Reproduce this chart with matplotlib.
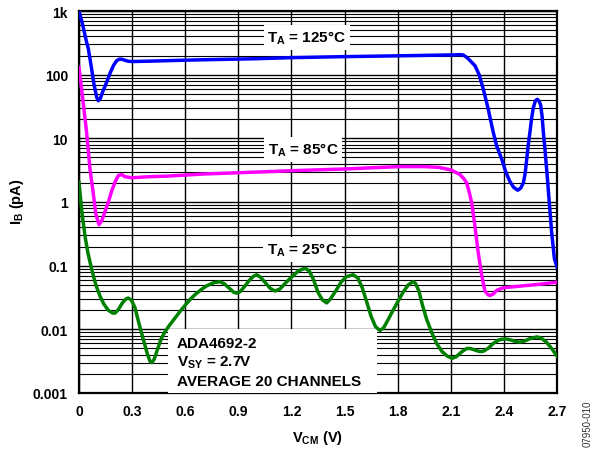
import matplotlib
matplotlib.use("Agg")
import matplotlib.pyplot as plt
from matplotlib.ticker import LogLocator, NullFormatter, FixedLocator, FixedFormatter
from matplotlib.patches import Rectangle

plt.rcParams['font.family'] = ['Liberation Sans', 'DejaVu Sans']
plt.rcParams['font.weight'] = 'bold'
plt.rcParams['mathtext.fontset'] = 'custom'
plt.rcParams['mathtext.rm'] = 'Liberation Sans:bold'
plt.rcParams['mathtext.it'] = 'Liberation Sans:bold'
plt.rcParams['mathtext.bf'] = 'Liberation Sans:bold'

# ---- data ----
x_125 = [0.000, 0.020, 0.040, 0.053, 0.070, 0.085, 0.100, 0.109, 0.120, 0.135, 0.156, 0.175,
         0.195, 0.213, 0.228, 0.241, 0.260, 0.280, 0.305, 0.400, 0.500, 0.683, 1.000, 1.200,
         1.500, 1.813, 2.096, 2.150, 2.170, 2.190, 2.210, 2.237, 2.260, 2.284, 2.310, 2.340,
         2.360, 2.388, 2.410, 2.434, 2.455, 2.478, 2.495, 2.510, 2.520, 2.529, 2.538, 2.547,
         2.556, 2.566, 2.578, 2.589, 2.600, 2.608, 2.616, 2.623, 2.632, 2.645, 2.655, 2.670,
         2.685, 2.700]
ib_125 = [1000, 620, 350, 252, 130, 70, 44, 39, 42, 55, 76, 105,
          140, 166, 175, 175, 168, 162, 161, 163, 166, 171, 178, 185,
          192, 198, 204, 206, 204, 187, 165, 138, 100, 59, 30, 12.4,
          7.5, 4.7, 3.0, 2.1, 1.7, 1.53, 1.65, 2.0, 2.8, 4.7, 8.0, 12.4,
          20, 30, 39, 41, 38, 33, 22, 12.4, 6.7, 2.5, 1.1, 0.33,
          0.13, 0.095]

x_85 = [0.000, 0.020, 0.043, 0.062, 0.080, 0.095, 0.113, 0.130, 0.150, 0.166, 0.185, 0.205,
        0.222, 0.240, 0.260, 0.298, 0.400, 0.500, 0.700, 1.000, 1.200, 1.500, 1.813, 1.950,
        2.030, 2.100, 2.152, 2.175, 2.190, 2.205, 2.218, 2.235, 2.255, 2.275, 2.293, 2.310,
        2.322, 2.340, 2.360, 2.397, 2.500, 2.600, 2.700]
ib_85 = [130, 45, 12.3, 3.3, 1.4, 0.65, 0.44, 0.52, 0.75, 1.0, 1.5, 2.1,
         2.6, 2.7, 2.5, 2.4, 2.5, 2.55, 2.75, 2.95, 3.1, 3.3, 3.6, 3.6,
         3.5, 3.2, 2.7, 2.3, 2.0, 1.4, 0.98, 0.45, 0.16, 0.07, 0.04, 0.035,
         0.034, 0.036, 0.041, 0.045, 0.048, 0.051, 0.055]

x_25 = [0.000, 0.015, 0.034, 0.050, 0.072, 0.095, 0.119, 0.140, 0.165, 0.190, 0.203, 0.220,
        0.245, 0.265, 0.278, 0.295, 0.316, 0.340, 0.360, 0.385, 0.400, 0.411, 0.425, 0.445,
        0.465, 0.486, 0.510, 0.542, 0.570, 0.600, 0.630, 0.655, 0.690, 0.720, 0.760, 0.796,
        0.820, 0.850, 0.875, 0.891, 0.910, 0.935, 0.960, 0.985, 1.004, 1.025, 1.050, 1.080,
        1.107, 1.135, 1.165, 1.200, 1.240, 1.277, 1.300, 1.325, 1.350, 1.375, 1.399, 1.420,
        1.450, 1.480, 1.510, 1.549, 1.575, 1.600, 1.625, 1.650, 1.675, 1.700, 1.720, 1.745,
        1.770, 1.800, 1.830, 1.860, 1.887, 1.900, 1.920, 1.940, 1.965, 1.994, 2.020, 2.050,
        2.080, 2.107, 2.130, 2.160, 2.190, 2.210, 2.240, 2.260, 2.282, 2.310, 2.340, 2.370,
        2.406, 2.440, 2.470, 2.491, 2.520, 2.550, 2.587, 2.610, 2.640, 2.670, 2.700]
ib_25 = [2.04, 0.75, 0.29, 0.16, 0.087, 0.05, 0.033, 0.025, 0.020, 0.018, 0.018, 0.020,
         0.026, 0.030, 0.031, 0.029, 0.022, 0.012, 0.0075, 0.0042, 0.0032, 0.0030, 0.0034, 0.0050,
         0.0072, 0.0092, 0.0115, 0.015, 0.019, 0.024, 0.030, 0.035, 0.042, 0.048, 0.054, 0.056,
         0.052, 0.044, 0.038, 0.037, 0.039, 0.047, 0.058, 0.068, 0.072, 0.066, 0.055, 0.044,
         0.040, 0.043, 0.053, 0.066, 0.083, 0.091, 0.083, 0.060, 0.038, 0.029, 0.026, 0.030,
         0.040, 0.055, 0.067, 0.072, 0.064, 0.045, 0.027, 0.016, 0.011, 0.0096, 0.0105, 0.014,
         0.019, 0.027, 0.038, 0.050, 0.056, 0.053, 0.040, 0.024, 0.014, 0.0087, 0.0060, 0.0045,
         0.0038, 0.0035, 0.0037, 0.0044, 0.0050, 0.0050, 0.0047, 0.0045, 0.0045, 0.0050, 0.0060, 0.0068,
         0.0071, 0.0068, 0.0064, 0.0063, 0.0066, 0.0072, 0.0076, 0.0073, 0.0063, 0.0050, 0.0038]

x_ticks = [0, 0.3, 0.6, 0.9, 1.2, 1.5, 1.8, 2.1, 2.4, 2.7]
x_tick_labels = ["0", "0.3", "0.6", "0.9", "1.2", "1.5", "1.8", "2.1", "2.4", "2.7"]
y_ticks = [0.001, 0.01, 0.1, 1, 10, 100, 1000]
y_tick_labels = ["0.001", "0.01", "0.1", "1", "10", "100", "1k"]

fig = plt.figure(figsize=(5.95, 4.52), dpi=100)
ax = fig.add_axes([79/595, 58/452, 478/595, 382/452])

ax.set_yscale('log')
ax.set_xlim(0, 2.7)
ax.set_ylim(0.001, 1000)

ax.xaxis.set_major_locator(FixedLocator(x_ticks))
ax.xaxis.set_major_formatter(FixedFormatter(x_tick_labels))
ax.yaxis.set_major_locator(FixedLocator(y_ticks))
ax.yaxis.set_major_formatter(FixedFormatter(y_tick_labels))
ax.yaxis.set_minor_locator(LogLocator(base=10, subs=range(2, 10), numticks=20))
ax.yaxis.set_minor_formatter(NullFormatter())

ax.tick_params(which='both', length=0)
ax.tick_params(axis='x', pad=8, labelsize=10)
ax.tick_params(axis='y', pad=8, labelsize=10)
for lab in ax.get_xticklabels() + ax.get_yticklabels():
    lab.set_fontweight('bold')

ax.grid(True, which='major', axis='both', color='black', lw=1.0)
ax.grid(True, which='minor', axis='y', color='black', lw=0.8)
ax.set_axisbelow(True)
for s in ax.spines.values():
    s.set_linewidth(1.6)
    s.set_color('black')

ax.plot(x_125, ib_125, color='#0000FF', lw=2.5, zorder=5, solid_joinstyle='round')
ax.plot(x_85, ib_85, color='#FF00FF', lw=2.5, zorder=5, solid_joinstyle='round')
ax.plot(x_25, ib_25, color='#008000', lw=2.5, zorder=5, solid_joinstyle='round')

bb = dict(boxstyle='square,pad=0.25', fc='white', ec='none')
ax.text(1.288, 390, r'$\mathrm{T_A}$ = 125°C', ha='center', va='center', fontsize=11,
        fontweight='bold', bbox=bb, zorder=4)
ax.text(1.265, 6.7, r'$\mathrm{T_A}$ = 85°C', ha='center', va='center', fontsize=11,
        fontweight='bold', bbox=bb, zorder=4)
ax.text(1.262, 0.18, r'$\mathrm{T_A}$ = 25°C', ha='center', va='center', fontsize=11,
        fontweight='bold', bbox=bb, zorder=4)

ax.add_patch(Rectangle((89/478, 0), 209/478, 64/382, transform=ax.transAxes,
                       fc='white', ec='none', zorder=3))
ax.text(0.205, 0.131, 'ADA4692-2', transform=ax.transAxes, ha='left', va='center',
        fontsize=11, fontweight='bold', zorder=4)
ax.text(0.205, 0.081, r'$\mathrm{V_{SY}}$ = 2.7V', transform=ax.transAxes, ha='left',
        va='center', fontsize=11, fontweight='bold', zorder=4)
ax.text(0.205, 0.032, 'AVERAGE 20 CHANNELS', transform=ax.transAxes, ha='left',
        va='center', fontsize=11, fontweight='bold', zorder=4)

fig.text(318/595, 1 - 438/452, r'$\mathrm{V_{CM}}$ (V)', ha='center', va='center',
         fontsize=10.5, fontweight='bold')
fig.text(17/595, 1 - 202/452, r'$\mathrm{I_B}$ (pA)', ha='center', va='center',
         rotation=90, fontsize=10.5, fontweight='bold')
fig.text(588/595, 1 - 424/452, '07950-010', ha='center', va='center', rotation=90,
         fontsize=7, fontweight='normal', color='#333333')

fig.savefig('out.png', dpi=100)
